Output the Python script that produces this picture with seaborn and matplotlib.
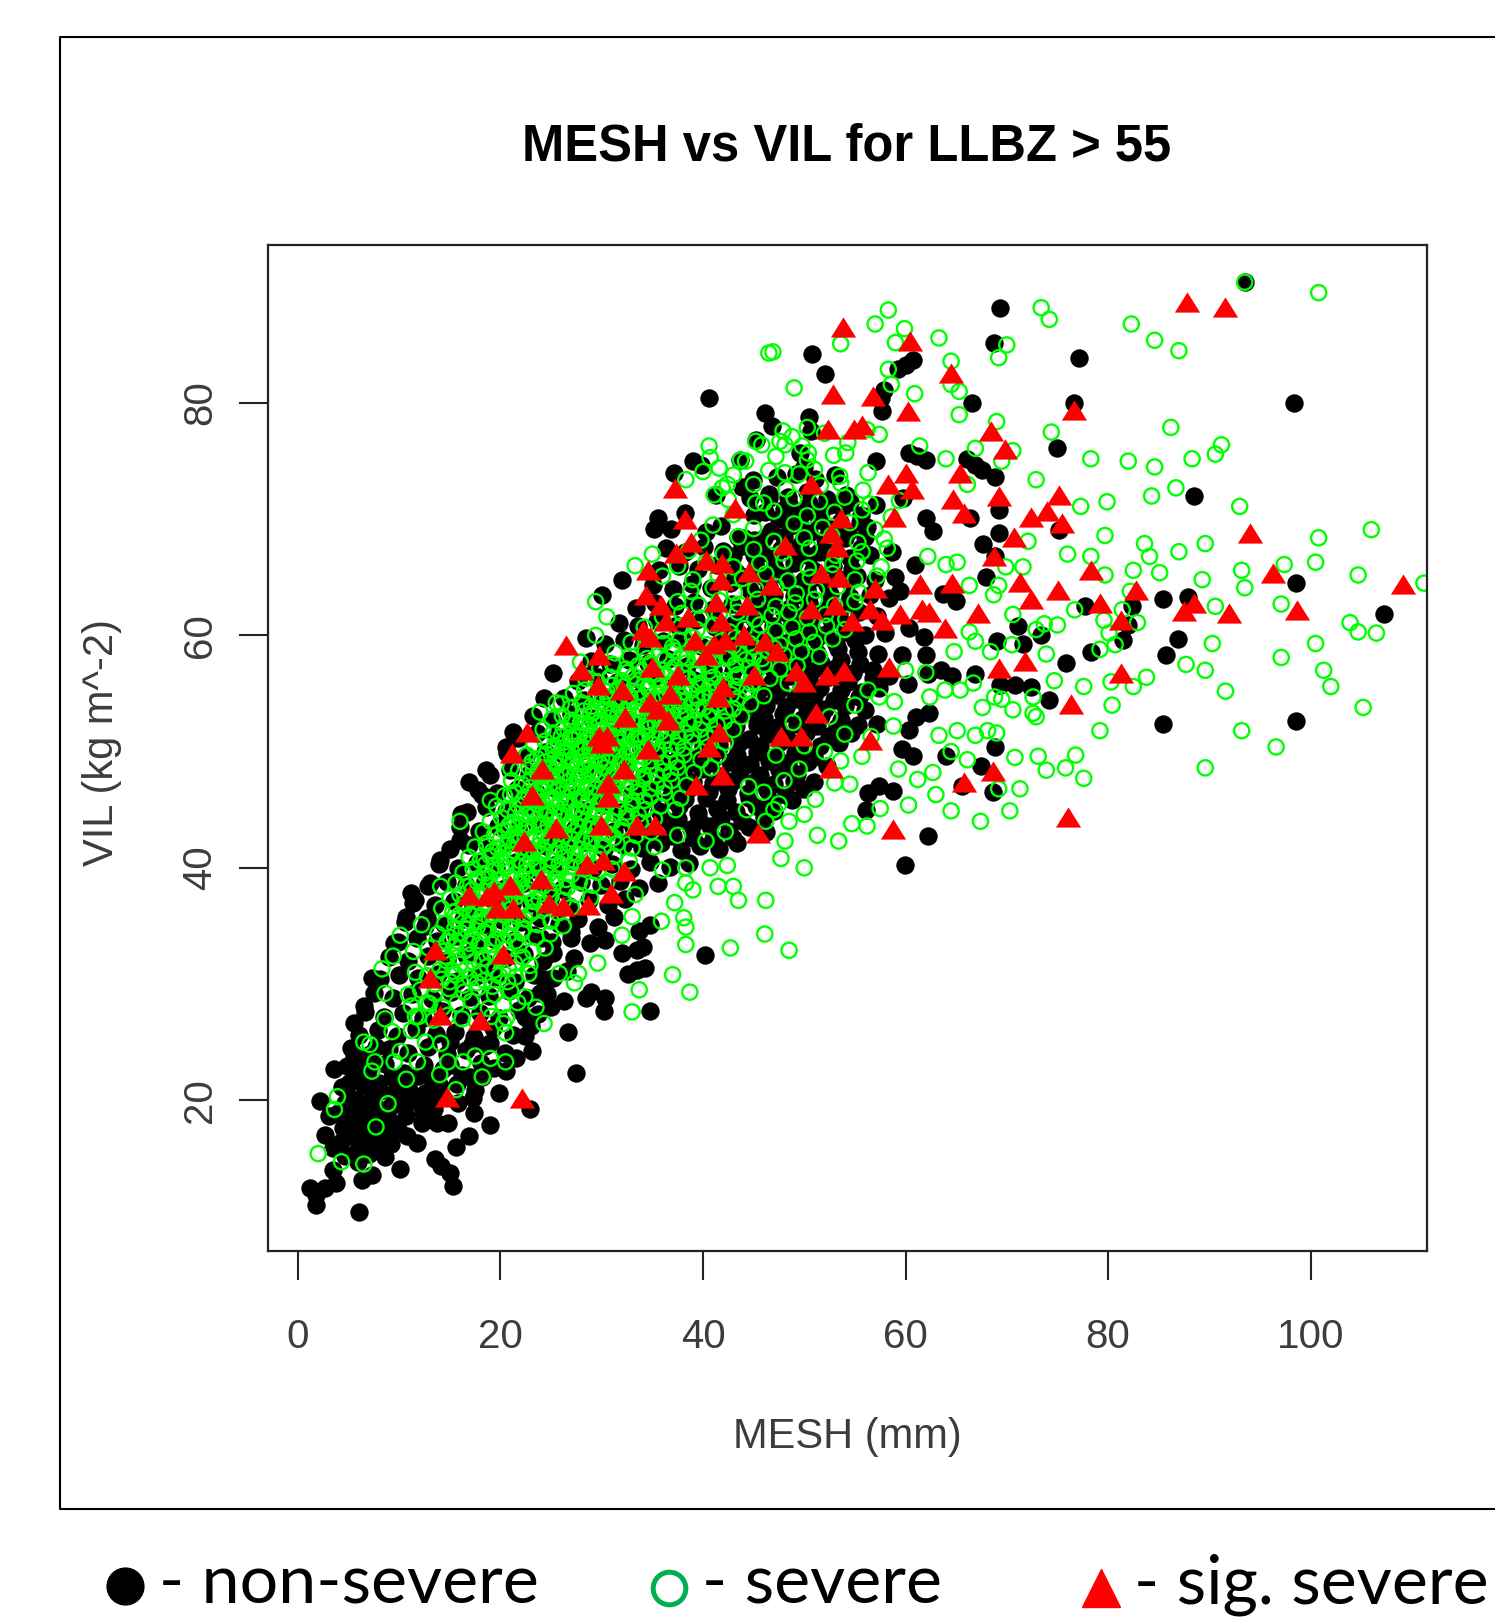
"""MESH vs VIL scatter for LLBZ > 55"""

import pandas as pd
import matplotlib.pyplot as plt
from matplotlib.lines import Line2D
import seaborn as sns

# values are (MESH, VIL)
NONSEVERE_OUTER = [
    (69.3,88.2),(68.7,85.2),(77.1,83.9),(98.4,80),(66.6,80),(76.6,80),(60.7,83.7),(60,83.3),(59.3,82.9),
    (57.7,79.3),(57.9,81.1),(57.6,80.4),(75,76.1),(60.3,75.7),(62,75.1),(61.1,75.4),(66.1,75.2),(66.9,74.7),
    (67.6,74.2),(68.8,73.6),(69.2,70.8),(66.4,70.1),(57.1,75),(59.8,71.8),(57.1,71.2),(88.5,72),(75.2,69.1),
    (62,70.1),(62.7,69),(69.2,68.8),(67.7,67.9),(68.8,66.8),(67.9,65),(60.9,66.1),(98.6,64.5),(85.4,63.1),
    (87.9,63.3),(107.3,61.8),(77.7,62.5),(82.4,62.5),(82,60.9),(81.5,59.6),(86.9,59.7),(85.7,58.3),(78.3,58.6),
    (75.8,57.6),(71.1,60.8),(73.4,60),(69,59.5),(71.6,59.3),(74.2,54.4),(85.4,52.4),(98.6,52.6),(69.3,55.7),
    (70.8,55.7),(72.4,55.6),(66.9,56.7),(64.6,56.5),(63.5,57),(60.2,55.8),(62.2,56.7),(62,58.3),(59.7,58.3),
    (57.4,55.5),(62.3,53.3),(61,53),(60.3,60.6),(61.8,59.9),(63.7,63.6),(65,63),(59.5,63.8),(68.8,50.4),
    (64,49.6),(67.5,48.8),(65.6,47),(68.6,46.5),(58.8,46.6),(62.2,42.7),(59.9,40.2),(60.7,49.6),(59.7,50.2),
    (60.3,51.9),(57.2,52.4),(56.1,45),(56.3,46.4),(57.4,47),
    (40.6,80.4),(46.1,79.1),(46.8,78),(50.5,78.8),(50.7,77.6),(50.8,84.2),(52,82.5),(45.2,76.8),(43.7,75.1),
    (39,75),(39.8,74.7),(37.1,74),(35.6,70.1),(35.2,69.2),(44.9,73.4),(43.9,72.8),(41.3,72.1),(38.2,70.5),
    (41.8,69.4),(43.5,68.5),(45,68.2),(49.6,75.7),(50,74.5),(32,64.8),(30,63.5),(28.4,59.8),(25.2,56.8),
    (24.3,54.6),(21.2,51.7),(93.5,90.4),
    (6,10.4),(1.8,11),(1.2,12.4),(2.7,12.4),(3.8,12.9),(1.8,11.8),(6.3,13.1),(7.3,13.6),(10.1,14.1),(15.3,12.6),
    (15,13.7),(14.1,14.3),(13.5,14.9),(15.6,16),(16.9,16.9),(19,17.9),(17.4,18.9),(19.9,20.6),(22.9,19.2),
    (27.5,22.3),(23.1,24.2),(26.7,25.9),(30.2,27.7),(30.3,28.8),(28.4,28.8),(34.8,27.7),(40.2,32.5),(33.5,31.2),
    (34.3,31.4),(32.6,30.9),(33.5,32.9),(32,32.7),(34.1,33.2),(28.8,33.5),(30.3,33.8),(29.6,34.9),(31.2,35.8),
    (33.7,34.6),(34.8,35.1),(25,28),(23.9,29.2),(24.3,30.4),(25.2,32.7),(22.4,27.2),(22.4,25.5),(20.5,22.5),
    (19,24.9),(17.5,20.9),(18.2,22),(2.2,19.9),(3.6,22.7),(5.5,23.9),(5.5,26.6),(6.5,28.1),(7.3,30.5),(9.5,33.5),
    (11.2,37.8),(13,38.7),(14,40.7),(16,42.4),(16.1,44.6),(16.9,47.4),(18.6,48.4),(20.5,50.4),(18.2,46.3),
    (11.4,37),(10.7,35.8),(12.5,35),
    (5,21.5),(6.5,21.2),(8,21.5),(5.7,20),(7.3,20),(5.2,18.6),(6.5,18.6),(8,19.2),(9.5,20.6),(11,20.9),(12.5,20.6),
    (14,21.2),(10.7,18.6),(12.2,18),(13.7,18),(14.8,18),(9.9,17.5),(11.8,16.3),(10.8,16.9),(8.4,16.1),(8.6,15.1),
    (5.4,16.9),(6.5,16.6),(2.7,17),(3.5,15.9),(3.5,14),(7.1,17.7),(5,20.3),(6.1,22.3),(12.9,19.7),(11.4,19.9),
    (3.1,18.6),(4.6,15.2),(5.9,14.7),(7,15.4),(4.4,17.6),
]
NONSEVERE_CORE = [
    (4.3,21.1),(6.2,22),(8.1,20.8),(10.2,21.7),(11.9,22.1),(13.8,20.7),(15.7,21.4),(17.3,20.2),
    (4.8,22.9),(6.9,22.6),(8.6,23.1),(10.5,22.3),(12.4,23),(14.3,22.7),(16.2,22.2),(18.1,23.2),(19.4,22.8),
    (5.2,24.5),(7.1,24),(9,24.4),(10.9,24.1),(12.8,24.6),(14.7,24),(16.6,24.3),(18.5,24.7),(20.4,24.1),(21.5,23.6),
    (6,25.6),(7.9,26),(9.8,25.5),(11.7,26.1),(13.6,25.7),(15.5,25.9),(17.4,25.4),(19.3,26.2),(21.2,25.6),(23,26.4),
    (6.6,27.6),(8.5,27.2),(10.4,27.5),(12.3,27.1),(14.2,27.7),(16.1,27.3),(18,27.5),(19.9,27.1),(21.8,27.8),(23.7,27.4),
    (7.5,29.2),(9.4,28.8),(11.3,29.1),(13.2,28.7),(15.1,29.3),(17,28.9),(18.9,29),(20.8,29.4),(22.7,28.8),(24.6,29.1),(26.3,28.5),(28.9,29.3),
    (8.1,30.4),(10,30.8),(11.9,30.5),(13.8,30.9),(15.7,30.3),(17.6,30.7),(19.5,30.6),(21.4,30.2),(23.3,30.8),(25.2,30.5),(26.6,31.1),
    (9,32.3),(10.9,32),(12.8,32.4),(14.7,32.1),(16.6,32.5),(18.5,31.9),(20.4,32.2),(22.3,32.6),(24.2,32),(27.3,32.2),
    (9.9,33.6),(11.8,34),(13.7,33.7),(15.6,34.1),(17.5,33.5),(19.4,33.9),(21.3,33.8),(23.2,34.2),(25.1,33.6),(27,34),
    (10.6,35.3),(12.7,35.7),(14.4,35.2),(16.3,35.6),(18.2,35.1),(20.1,35.5),(22,35.3),(23.9,35.7),(25.8,35.2),(27.7,35.6),
    (11.6,37.2),(13.5,36.8),(15.4,37.1),(17.3,36.7),(19.2,37.3),(21.1,36.9),(23,37),(24.9,37.3),(26.8,36.7),(28.7,37.2),(30.6,36.8),(32.3,37.3),
    (12.8,38.4),(14.7,38.8),(16.6,38.5),(18.5,38.9),(20.4,38.3),(22.3,38.7),(24.2,38.6),(26.1,38.2),(28,38.8),(29.9,38.5),(31.8,38.9),(33.7,38.3),(35.6,38.7),
    (13.9,40.3),(15.8,40),(17.7,40.4),(19.6,40.1),(21.5,40.5),(23.4,39.9),(25.3,40.2),(27.2,40.6),(29.1,40),(31,40.3),(32.9,39.9),(34.8,40.5),(36.7,40.1),(38.6,40.4),
    (15,41.6),(16.9,42),(18.8,41.7),(20.7,42.1),(22.6,41.5),(24.5,41.9),(26.4,41.8),(28.3,42.2),(30.2,41.6),(32.1,42),(34,41.7),(35.9,42.1),(37.8,41.5),(39.7,41.9),(41.6,41.6),(43.4,42.1),
    (16,43.5),(17.9,43.2),(19.8,43.6),(21.7,43.3),(23.6,43.7),(25.5,43.1),(27.4,43.4),(29.3,43.8),(31.2,43.2),(33.1,43.5),(35,43.1),(36.9,43.7),(38.8,43.3),(40.7,43.6),(42.6,43.2),(44.5,43.5),(46.2,43.1),
    (16.7,44.8),(18.6,45.2),(20.5,44.9),(22.4,45.3),(24.3,44.7),(26.2,45.1),(28.1,45),(30,45.4),(31.9,44.8),(33.8,45.2),(35.7,44.9),(37.6,45.3),(39.5,44.7),(41.4,45.1),(43.3,44.8),(45.2,45.3),(47,44.9),
    (17.8,46.7),(19.7,46.4),(21.6,46.8),(23.5,46.5),(25.4,46.9),(27.3,46.3),(29.2,46.6),(31.1,47),(33,46.4),(34.9,46.7),(36.8,46.3),(38.7,46.9),(40.6,46.5),(42.5,46.8),(44.4,46.4),(46.3,46.7),(48.2,46.3),(50,46.8),
    (19,48),(20.9,48.4),(22.8,48.1),(24.7,48.5),(26.6,47.9),(28.5,48.3),(30.4,48.2),(32.3,48.6),(34.2,48),(36.1,48.4),(38,48.1),(39.9,48.5),(41.8,47.9),(43.7,48.3),(45.6,48),(47.5,48.4),(49.3,48.1),
    (20.6,49.9),(22.5,49.6),(24.4,50),(26.3,49.7),(28.2,50.1),(30.1,49.5),(32,49.8),(33.9,50.2),(35.8,49.6),(37.7,49.9),(39.6,49.5),(41.5,50.1),(43.4,49.7),(45.3,50),(47.2,49.6),(49.1,49.9),(51,49.5),
    (21.7,51.2),(23.6,51.6),(25.5,51.3),(27.4,51.7),(29.3,51.1),(31.2,51.5),(33.1,51.4),(35,51.8),(36.9,51.2),(38.8,51.6),(40.7,51.3),(42.6,51.7),(44.5,51.1),(46.4,51.5),(48.3,51.2),(50.2,51.6),(52.4,51.3),(54.6,51.6),
    (23.2,53.1),(25.1,52.8),(27,53.2),(28.9,52.9),(30.8,53.3),(32.7,52.7),(34.6,53),(36.5,53.4),(38.4,52.8),(40.3,53.1),(42.2,52.7),(44.1,53.3),(46,52.9),(47.9,53.2),(49.8,52.8),(51.7,53.1),(53.6,52.7),
    (26.3,54.6),(28.2,54.4),(30.1,54.8),(32,54.5),(33.9,54.9),(35.8,54.3),(37.7,54.6),(39.6,55),(41.5,54.4),(43.4,54.7),(45.3,54.3),(47.2,54.9),(49.1,54.5),(51,54.8),(52.9,54.4),(55.4,54.7),
    (27.7,56.1),(29.6,56.4),(31.5,56),(33.4,56.3),(35.3,56.5),(37.2,55.9),(39.1,56.2),(41,56.6),(42.9,56),(44.8,56.3),(46.7,55.9),(48.6,56.5),(50.5,56.1),(52.4,56.4),(54.3,56),(56.8,56.3),
    (28.9,57.8),(30.8,57.5),(32.7,57.9),(34.6,57.6),(36.5,58),(38.4,57.4),(40.3,57.7),(42.2,58.1),(44.1,57.5),(46,57.8),(47.9,57.4),(49.8,58),(51.7,57.6),(53.6,57.9),(55.5,57.5),
    (30.3,59.3),(32.2,59.6),(34.1,59.2),(36,59.5),(37.9,59.7),(39.8,59.1),(41.7,59.4),(43.6,59.8),(45.5,59.2),(47.4,59.5),(49.3,59.1),(51.2,59.7),(53.1,59.3),(55,59.6),
    (31.7,61.1),(33.6,60.8),(35.5,61.2),(37.4,60.9),(39.3,61.3),(41.2,60.7),(43.1,61),(45,61.4),(46.9,60.8),(48.8,61.1),(50.7,60.7),(52.6,61.3),(54.5,60.9),
    (33.4,62.4),(35.3,62.8),(37.2,62.5),(39.1,62.9),(41,62.3),(42.9,62.7),(44.8,62.6),(46.7,63),(48.6,62.4),(50.5,62.8),(52.4,62.5),(54.4,62.9),
    (35.1,64.3),(37,64),(38.9,64.4),(40.8,64.1),(42.7,64.5),(44.6,63.9),(46.5,64.2),(48.4,64.6),(50.3,64),(52.2,64.3),(54.4,64.7),
    (35.7,65.6),(37.6,66),(39.5,65.7),(41.4,66.1),(43.3,65.5),(45.2,65.9),(47.1,65.8),(49,66.2),(50.9,65.6),(52.8,66),(54.7,65.7),
    (36.3,67.5),(38.2,67.2),(40.1,67.6),(42,67.3),(43.9,67.7),(45.8,67.1),(47.7,67.4),(49.6,67.8),(51.5,67.2),(55.6,67.5),
    (36.8,69.2),(40.3,68.9),(46.7,69),(48.6,69.4),(50.5,68.8),(52.4,69.2),(54.3,68.9),(56.2,69.3),
    (46.1,70.6),(48,70.9),(49.9,70.5),(51.8,70.8),(53.7,71),(55.6,70.4),
    (44.6,71.8),(46.5,72.2),(48.4,71.9),(50.3,72.3),(52.2,71.7),(54.1,72.1),
    (47.3,73.6),(49.2,73.9),(51.1,73.5),(53,73.8),
]
NONSEVERE_FILL = [
    (4.2,16.4),(5.8,15.6),(7.6,16.4),(9.2,16.2),(6,19.3),(7.6,18.4),(9,18.3),(9.2,19.5),(10.4,19.7),(4,18.9),(4.6,19.8),
    (5.6,17.7),(8.8,17.4),(12.3,19),(13.4,19.2),(6.9,23),(9.3,22),(5.6,22.6),(7.7,24.6),(13,22),(15,23),(17,22),(15.8,19.8),
    (15,25),(17.2,24.8),
    (37.5,44.2),(39.6,44.1),(41.8,44.3),(43.9,44),(46,44.4),(38.2,45.9),(40.3,46),(42.4,45.8),(44.5,46),(46.8,45.7),(48.8,45.8),
    (39,47.4),(41,47.3),(43,47.5),(45,47.4),(47,47.2),(49,47.5),(51,47.4),(40.8,49),(42.7,49.1),(44.6,48.9),(46.5,49.2),(48.4,49),
    (50.4,49.1),(52.2,48.8),(41.6,50.6),(43.6,50.7),(45.6,50.5),(47.6,50.8),(49.6,50.6),(51.6,50.5),(53.4,50.7),(43.3,52.2),
    (45.3,52.3),(47.3,52.1),(49.3,52.4),(51.3,52.2),(53.2,52.1),(55.3,52.3),(46.2,53.9),(48.2,53.8),(50.2,54),(52,53.7),(54,53.9),
    (56,53.6),(47.6,55.4),(49.6,55.2),(51.6,55.5),(53.6,55.3),(55.7,55.1),(48.9,57),(50.8,56.9),(52.8,57.1),(54.8,56.8),(56.8,57),
    (58.4,56.5),(49.4,58.7),(51.3,58.5),(53.3,58.8),(55.3,58.6),(57.3,58.4),(50.2,60.2),(52.1,60.1),(54,60.3),(56,60),(58,60.2),
    (51.4,61.9),(53.4,61.8),(55.4,62),(57.2,61.7),(50.5,63.4),(52.5,63.6),(54.5,63.3),(56.5,63.5),(58.4,63.2),(51.2,65),(53.2,64.9),
    (55.2,65.1),(57,64.8),(59,65),(50.5,66.8),(52.5,66.9),(54.5,66.7),(56.5,66.9),(58.7,67.2),(50,68.5),(52,68.3),(54,68.4),(56,68.5),
    (47.5,70),(49.5,70),(51.5,69.9),(53.5,69.8),(55.5,69.8),(45,70.4),(46.5,71.8),(48.5,71.3),(50.5,71.4),(52.5,71.2),(54.5,71.5),
    (33,42.6),(35,42.5),(37,42.7),(39,42.6),(41,42.5),(43,42.6),(32,44.2),(34,44.1),(36,44.3),(33,45.9),(35,46),(37,45.8),(34,47.4),
    (36,47.5),(37,47.3),(35,49),(37,49.1),(39,49),(36,50.6),(38,50.7),(40,50.5),(37.5,52.2),(39.5,52.3),(41.5,52.1),(38.5,53.9),
    (40.5,53.8),(42.5,54),(44.5,53.7),(39.5,55.4),(41.5,55.3),(43.5,55.5),(45.5,55.3),(41,57),(43,56.9),(45,57.1),(47,56.9),(42,58.6),
    (44,58.6),(46,58.7),(48,58.5),(43,60.2),(45,60.2),(47,60.3),(49,60),(44,61.9),(46,61.9),(48,62),(50,61.8),(45,63.4),(47,63.5),
    (49,63.4),(44,65),(46,65),(48,65.1),(50,64.8),(43,66.8),(45,66.9),(47,66.7),(49,66.9),(44,68.4),(46,68.4),(48,68.5),(24,34),(27,34.5),
]
SEVERE_OUTER = [
    (58.3,88),(57,86.8),(59.9,86.4),(59,85.2),(63.3,85.6),(64.5,83.6),(58.3,82.9),(58.6,81.6),(60.9,80.8),(65.3,81),
    (64.5,81.6),(65.3,79),(73.4,88.2),(74.2,87.2),(70,85),(69.2,83.9),(82.3,86.8),(84.6,85.4),(87,84.5),(100.8,89.5),
    (93.5,90.4),(86.2,77.9),(91.2,76.4),(90.6,75.6),(88.3,75.2),(84.6,74.5),(82,75),(78.3,75.2),(74.4,77.5),(69,78.4),
    (66.9,76.1),(70.6,75.9),(64,75.2),(61.4,76.3),(57.4,77.3),(72.9,73.4),(66.1,73),(69.5,75),(84.3,72),(86.7,72.7),
    (93,71.1),(77.3,71.1),(79.9,71.5),(79.7,68.6),(100.8,68.4),(106,69.1),(100.5,66.3),(89.6,67.9),(87,67.2),(83.6,67.9),
    (84.1,66.8),(85.1,65.4),(82.5,65.6),(78.3,66.8),(76,67),(79.7,65.2),(72.1,68.1),(71.6,65.9),(69.9,65.9),(62.2,66.8),
    (64,66.1),(65.1,66.3),(66.3,64.3),(69.2,64.3),(68.7,63.5),(104.7,65.2),(111.2,64.5),(93.2,65.6),(93.5,64.1),(89.3,64.8),
    (97.4,66.1),(97.1,62.7),(90.6,62.5),(103.9,61.1),(104.7,60.3),(106.5,60.2),(100.5,59.3),(97.1,58.1),(90.3,59.3),(87.7,57.5),
    (89.6,57),(91.6,55.2),(101.3,57),(102,55.6),(105.2,53.8),(83.8,56.4),(82.5,55.6),(80.3,56),(77.6,55.6),(74.7,56.1),
    (80.4,54),(79.2,51.8),(93.2,51.8),(96.6,50.4),(89.6,48.6),(76.8,49.7),(73.1,49.6),(75.8,48.6),(73.9,48.4),(77.6,47.7),
    (70.8,49.5),(71.3,46.8),(70.3,44.9),(67.4,44),(64.5,44.9),(63,46.3),(60.3,45.4),(57.5,45.1),(56.2,43.6),(69.2,46.8),
    (66.1,49.3),(64.5,50),(63.3,51.4),(65.1,51.8),(66.9,51.4),(68.1,51.8),(69,51.6),(61.2,47.6),(59.3,48.5),(62.7,48.2),
    (58.8,52.2),(58.9,54.3),(67.6,53.8),(70.6,53.6),(72.9,53),(72.6,53.3),(69.5,54.5),(68.8,54.7),(62.4,54.7),(63.9,55.3),
    (65.4,55.3),(66.7,55.9),(72.6,54.7),(73.9,58.4),(75,60.9),(73.7,61),(72.9,60.5),(70.6,61.8),(76.7,62.2),(79.6,61.3),
    (80.1,60.2),(79.2,58.8),(80.7,59.2),(82.9,61.1),(81.4,62.2),(82.2,63.8),(68.4,58.6),(66.9,59.5),(66.3,60.3),(64.8,58.6),
    (60,57),(62,56.8),(56.3,55.3),(57.4,54.7),(70.5,59.2),
    (2,15.4),(4.3,14.7),(6.5,14.5),(7.7,17.7),(8.9,19.7),(3.9,20.3),(3.6,19.2),(10.7,21.8),(7.3,22.5),(14,22.2),(15.6,20.9),
    (18.2,22),(20.5,23.3),(19,23.6),(17.5,23.8),(16.3,23.3),(14.8,23.3),(11.8,23.3),(9.5,23.3),(7.6,23.3),(7.1,24.8),(6.5,25),
    (10.1,24.2),(9.3,25.9),(8.6,27),(10.9,29.1),(11.6,31),(11.4,32.8),(10.1,34.2),(12.2,35.1),(8.3,31.3),(9.4,32.4),(8.6,29.2),
    (11.6,27.2),(12.6,25),(14.1,24.9),(11.2,26),(13,28.3),(14.1,38.4),(16,44),(21,46.3),(19,45.8),(21,48.6),(23.1,49.1),
    (24.3,26.6),(20.5,25.8),(20.3,26.6),(23.5,28),(22.4,28.9),(25.8,30.9),(27.3,30.1),(27.7,30.9),(29.6,31.8),(33.7,29.5),(33,27.6),
    (37,30.8),(38.7,29.3),(42.7,33.1),(46.1,34.3),(48.5,32.9),(38.3,33.4),(38.3,34.9),(38.1,35.7),(37.2,37),(35.9,35.4),(39,38.1),
    (38.3,38.7),(41.5,38.4),(43,38.4),(43.5,37.2),(46.2,37.2),(42.4,40.2),(40.7,40),(36,39.8),(38.3,40),(50,40),(47.7,40.8),
    (53.4,42.3),(51.3,42.8),(48.1,42.3),(54.7,43.8),(53,47.3),(51.1,45.9),(50,44.6),(48.5,44),(47,45),(40.3,42.3),(37.5,42.8),
    (35.2,41.8),(42.2,43.1),(33.3,37.7),(33,35.8),(32,34.2),
    (46.5,84.3),(46.9,84.4),(53.6,85.1),(49,81.3),(40.6,76.3),(41.6,74.4),(38.3,73.4),(42.4,73),(45.2,76.7),(43.7,75.1),(48.8,77.1),
    (48.1,76.4),(50.4,75.7),(54.1,75.7),(48.1,74),(41.1,72.1),(45.2,71.4),(35,67),(33.3,66),(29.4,62.9),(29.4,60),(30.5,61.6),
    (27.9,57.7),(23.9,53.4),(25.5,54.2),
    (44.5,47),(46,46.5),(48,47.5),(47.5,45.5),(49.5,48.5),(52,50),(54,51.5),(50,50.5),(47.2,49.7),(48.9,52.5),(52.5,53),(55,54),
    (53.6,49.2),(55.7,49.6),(56.6,51.3),(54.5,47.2),(44.3,45),(46.2,44),
]
SEVERE_CORE = [
    (11.9,27.2),(13.4,26.9),(14.8,27.3),(16.2,27),(17.6,26.8),(19.1,27.2),(20.6,27.1),
    (11.2,28.1),(12.7,28.4),(14.3,28),(15.7,28.3),(17.1,28.5),(18.8,27.9),(20.3,28.2),(21.7,28.4),
    (12.1,29.5),(13.5,29.2),(14.9,29.6),(16.4,29.3),(17.8,29.7),(19.4,29.1),(21,29.4),
    (12.8,30.7),(14.2,30.4),(15.6,30.8),(17,30.5),(18.4,30.3),(19.9,30.7),(21.5,30.6),(22.8,30.9),
    (13.3,31.6),(14.7,32),(16,31.7),(17.3,31.9),(18.7,31.5),(20,32.1),(21.4,31.8),(22.9,31.6),
    (12.9,33.1),(14.3,32.8),(15.4,33.2),(16.6,32.9),(17.8,33.3),(19,32.7),(20.5,33),(21.8,33.3),(23.2,32.8),(24.4,33.1),
    (13.8,34.3),(15,34),(16.1,34.4),(17.2,34.1),(18.4,34.5),(19.6,33.9),(20.8,34.2),(22.1,34.4),(23.5,34),(24.9,34.3),
    (14.5,35.2),(15.6,35.5),(16.7,35.1),(17.8,35.4),(18.9,35.6),(20.1,35),(21.2,35.3),(22.4,35.6),(23.7,35.1),(25,35.4),(26.2,35),
    (14.2,36.5),(15.3,36.2),(16.4,36.6),(17.5,36.3),(18.6,36.7),(19.7,36.1),(20.9,36.4),(22,36.7),(23.2,36.2),(24.4,36.5),(25.7,36.1),(27,36.6),
    (15,37.4),(16,37.7),(17.1,37.3),(18.2,37.6),(19.2,37.8),(20.4,37.2),(21.5,37.5),(22.6,37.8),(23.8,37.3),(25,37.6),(26.2,37.2),(27.5,37.7),(28.9,37.4),
    (15.6,38.7),(16.7,38.4),(17.7,38.8),(18.8,38.5),(19.9,38.9),(21,38.3),(22,38.6),(23.1,38.9),(24.2,38.4),(25.4,38.7),(26.6,38.3),(27.8,38.8),(29.1,38.5),(30.5,38.8),
    (16.3,39.6),(17.3,39.9),(18.4,39.5),(19.5,39.8),(20.5,40),(21.5,39.4),(22.6,39.7),(23.7,40),(24.8,39.5),(25.9,39.8),(27,39.4),(28.3,39.9),(29.6,39.6),(31,39.9),
    (16.9,40.9),(18,40.6),(19,41),(20,40.7),(21,41.1),(22.1,40.5),(23.1,40.8),(24.1,41.1),(25.2,40.6),(26.3,40.9),(27.4,40.5),(28.6,41),(29.8,40.7),(31.2,41),(32.7,40.6),
    (17.5,41.8),(18.6,42.1),(19.7,41.7),(20.7,42),(21.7,42.2),(22.7,41.6),(23.7,41.9),(24.7,42.2),(25.8,41.7),(26.8,42),(27.9,41.6),(29,42.1),(30.2,41.8),(31.5,42.1),(33,41.7),
    (18.3,43.1),(19.4,42.8),(20.4,43.2),(21.4,42.9),(22.4,43.3),(23.3,42.7),(24.3,43),(25.3,43.3),(26.3,42.8),(27.3,43.1),(28.4,42.7),(29.5,43.2),(30.7,42.9),(32,43.2),(33.4,42.8),(34.9,43.1),
    (19,44),(20.1,44.3),(21.1,43.9),(22,44.2),(23,44.4),(24,43.8),(25,44.1),(25.9,44.4),(26.9,43.9),(27.9,44.2),(28.9,43.8),(30,44.3),(31.1,44),(32.4,44.3),(33.8,43.9),(35.2,44.2),
    (19.6,45.3),(20.7,45),(21.7,45.4),(22.7,45.1),(23.6,45.5),(24.6,44.9),(25.5,45.2),(26.5,45.5),(27.5,45),(28.4,45.3),(29.4,44.9),(30.5,45.4),(31.7,45.1),(33,45.4),(34.3,45),(35.8,45.3),(37.3,45),
    (20.4,46.2),(21.4,46.5),(22.4,46.1),(23.3,46.4),(24.2,46.6),(25.2,46),(26.1,46.3),(27,46.6),(28,46.1),(29,46.4),(30,46),(31.1,46.5),(32.3,46.2),(33.5,46.5),(34.8,46.1),(36.2,46.4),(37.8,46),
    (21.1,47.5),(22.1,47.2),(23,47.6),(24,47.3),(24.9,47.7),(25.8,47.1),(26.7,47.4),(27.6,47.7),(28.6,47.2),(29.6,47.5),(30.6,47.1),(31.7,47.6),(32.9,47.3),(34.1,47.6),(35.4,47.2),(36.9,47.5),(38.4,47.1),
    (21.8,48.4),(22.8,48.7),(23.7,48.3),(24.7,48.6),(25.6,48.8),(26.5,48.2),(27.4,48.5),(28.3,48.8),(29.3,48.3),(30.3,48.6),(31.3,48.2),(32.4,48.7),(33.6,48.4),(34.8,48.7),(36.1,48.3),(37.5,48.6),(39.1,48.2),(40.8,48.6),
    (22.6,49.7),(23.6,49.4),(24.5,49.8),(25.4,49.5),(26.3,49.9),(27.2,49.3),(28.1,49.6),(29,49.9),(30,49.4),(31,49.7),(32,49.3),(33.1,49.8),(34.2,49.5),(35.4,49.8),(36.7,49.4),(38.1,49.7),(39.8,49.3),(41.5,49.7),
    (23.3,50.6),(24.4,50.9),(25.3,50.5),(26.2,50.8),(27.1,51),(28,50.4),(28.9,50.7),(29.8,51),(30.8,50.5),(31.8,50.8),(32.8,50.4),(33.9,50.9),(35,50.6),(36.2,50.9),(37.5,50.5),(38.9,50.8),(40.5,50.4),(42.2,50.8),
    (24.2,51.9),(25.2,51.6),(26.2,52),(27.1,51.7),(28,52.1),(28.9,51.5),(29.8,51.8),(30.7,52.1),(31.6,51.6),(32.6,51.9),(33.6,51.5),(34.7,52),(35.8,51.7),(37,52),(38.3,51.6),(39.7,51.9),(41.2,51.5),(43,51.9),
    (25.1,52.8),(26.1,53.1),(27,52.7),(28,53),(28.9,53.2),(29.8,52.6),(30.7,52.9),(31.6,53.2),(32.5,52.7),(33.5,53),(34.5,52.6),(35.5,53.1),(36.6,52.8),(37.8,53.1),(39.1,52.7),(40.5,53),(42.1,52.6),(43.8,53),
    (26,54.1),(27,53.8),(28,54.2),(29,53.9),(30,54.3),(30.9,53.7),(31.8,54),(32.7,54.3),(33.6,53.8),(34.6,54.1),(35.6,53.7),(36.6,54.2),(37.7,53.9),(38.9,54.2),(40.1,53.8),(41.5,54.1),(43,53.7),(44.7,54.1),
    (27.2,55),(28.3,55.3),(29.4,54.9),(30.5,55.2),(31.6,55.4),(32.6,54.8),(33.6,55.1),(34.6,55.4),(35.6,54.9),(36.7,55.2),(37.8,54.8),(38.9,55.3),(40.1,55),(41.4,55.3),(42.8,54.9),(44.3,55.2),(46,54.8),
    (28.4,56.3),(29.6,56),(30.8,56.4),(32,56.1),(33.1,56.5),(34.2,55.9),(35.3,56.2),(36.4,56.5),(37.5,56),(38.6,56.3),(39.8,55.9),(41,56.4),(42.2,56.1),(43.5,56.4),(45,56),(46.6,56.3),(48.4,55.9),
    (29.8,57.2),(31.1,57.5),(32.4,57.1),(33.6,57.4),(34.8,57.6),(36,57),(37.2,57.3),(38.3,57.6),(39.5,57.1),(40.7,57.4),(41.9,57),(43.2,57.5),(44.5,57.2),(46,57.5),(47.6,57.1),(49.3,57.4),
    (31.3,58.5),(32.8,58.2),(34.3,58.6),(35.7,58.3),(37.1,58.7),(38.4,58.1),(39.7,58.4),(41,58.7),(42.3,58.2),(43.6,58.5),(45,58.1),(46.5,58.6),(48,58.3),(49.7,58.6),(51.5,58.2),
    (32.9,59.4),(34.5,59.7),(36.1,59.3),(37.6,59.6),(39,59.8),(40.4,59.2),(41.8,59.5),(43.2,59.8),(44.6,59.3),(46.1,59.6),(47.6,59.2),(49.2,59.7),(51,59.4),(52.8,59.7),
    (34.2,60.7),(36,60.4),(37.8,60.8),(39.4,60.5),(41,60.9),(42.6,60.3),(44.1,60.6),(45.6,60.9),(47.2,60.4),(48.8,60.7),(50.5,60.3),(52.2,60.8),(54,60.5),
    (36,61.6),(37.9,61.9),(39.8,61.5),(41.6,61.8),(43.4,62),(45.1,61.4),(46.8,61.7),(48.5,62),(50.3,61.5),(52.1,61.8),(54.1,61.4),
    (37.5,62.9),(39.6,62.6),(41.6,63),(43.5,62.7),(45.4,63.1),(47.2,62.5),(49.1,62.8),(51,63.1),(53,62.6),(55,62.9),
    (38.8,63.8),(41,64.1),(43.1,63.7),(45.2,64),(47.2,64.2),(49.2,63.6),(51.2,63.9),(53.3,64.2),(55.4,63.7),
    (36,65.1),(39,64.8),(41.5,65.2),(43.9,64.9),(46.2,65.3),(48.4,64.7),(50.6,65),(52.8,65.3),(55,64.8),(57.2,65.1),
    (37.5,66),(40.3,66.3),(43,65.9),(45.6,66.2),(48,66.4),(50.4,65.8),(52.8,66.1),(55.2,66.4),(57.6,65.9),
    (38.6,67.3),(42,67),(45,67.4),(47.8,67.1),(50.5,67.5),(53.1,66.9),(55.7,67.2),(58.2,67.5),
    (39.8,68.2),(43.5,68.5),(47,68.1),(50,68.4),(52.7,68.6),(55.3,68),(57.9,68.3),
    (41,69.5),(45,69.2),(49,69.6),(51.8,69.3),(54.5,69.7),(57,69.1),
    (43,70.4),(47,70.7),(50.3,70.3),(53,70.6),(55.7,70.8),(58.6,70.2),
    (42.5,71.7),(46,71.4),(49,71.8),(51.5,71.5),(54,71.9),(56.5,71.3),(59.4,71.6),
    (41.9,72.7),(45,73),(48.2,72.6),(51.6,72.9),(53.6,73.1),(55.8,72.5),
    (40,74.1),(43,73.8),(46.5,74.2),(49.5,73.9),(51,74.3),(53.5,73.7),(56.3,74),
    (40.7,75.3),(44.2,75),(47.2,75.4),(50.3,75.1),(52.9,75.5),
    (45.8,76.4),(47.6,76.7),(49.8,76.3),(54.3,76.6),
    (47.9,77.6),(50.3,77.9),(52,77.4),(56.2,77.7),
]
SEVERE_RIDGE = [
    (13.5,30),(15,30.2),(16.3,29.9),(17.7,30.1),(19.2,29.8),(20.7,30.2),
    (14,31.2),(15.3,31.1),(16.6,31.3),(18,31),(19.4,31.2),(20.8,31.3),
    (14.6,32.4),(15.8,32.3),(17,32.5),(18.2,32.2),(19.5,32.4),(20.8,32.5),(22.2,32.3),
    (14.7,33.6),(15.7,33.7),(16.9,33.5),(18,33.7),(19.2,33.4),(20.3,33.6),(21.5,33.7),
    (15.5,34.8),(16.6,34.7),(17.7,34.9),(18.8,34.7),(19.9,34.8),(21,34.9),(22.2,34.7),
    (15.9,35.9),(17,36),(18.1,35.8),(19.3,36),(20.4,35.9),(21.6,35.8),(22.9,36),
    (16.5,37),(17.6,37.1),(18.7,36.9),(19.8,37.1),(20.9,37),(22,36.9),(23.2,37.1),(24.4,36.9),
    (17.2,38.1),(18.3,38),(19.4,38.2),(20.4,38),(21.5,38.1),(22.6,38.2),(23.7,38),(24.8,38.1),
    (17.8,39.1),(18.9,39.2),(20,39),(21,39.2),(22.1,39.1),(23.2,39),(24.3,39.2),(25.4,39.1),(26.5,39),
    (18.5,40.3),(19.5,40.2),(20.5,40.4),(21.6,40.2),(22.6,40.3),(23.6,40.4),(24.7,40.2),(25.8,40.3),(26.9,40.1),(28,40.3),
    (19.2,41.4),(20.2,41.3),(21.3,41.5),(22.3,41.3),(23.3,41.4),(24.3,41.5),(25.3,41.3),(26.3,41.4),(27.4,41.2),(28.5,41.4),(29.6,41.3),
    (20,42.5),(21,42.4),(22,42.6),(23,42.4),(24,42.5),(25,42.6),(26,42.4),(27,42.5),(28,42.3),(29,42.5),(30.1,42.4),(31.2,42.6),
    (20.8,43.6),(21.8,43.7),(22.8,43.5),(23.8,43.7),(24.7,43.6),(25.7,43.5),(26.7,43.7),(27.7,43.6),(28.7,43.4),(29.7,43.6),(30.8,43.7),(32,43.5),
    (21.5,44.7),(22.5,44.6),(23.4,44.8),(24.4,44.6),(25.3,44.7),(26.3,44.8),(27.2,44.6),(28.2,44.7),(29.2,44.5),(30.2,44.7),(31.3,44.6),(32.5,44.8),(33.6,44.6),
    (22.2,45.8),(23.2,45.9),(24.1,45.7),(25,45.9),(25.9,45.8),(26.8,45.7),(27.8,45.9),(28.7,45.8),(29.7,45.6),(30.7,45.8),(31.8,45.9),(33,45.7),(34.2,45.8),
    (23,46.9),(23.9,46.8),(24.8,47),(25.7,46.8),(26.6,46.9),(27.5,47),(28.4,46.8),(29.4,46.9),(30.3,46.7),(31.3,46.9),(32.4,46.8),(33.6,47),(34.8,46.8),(36.2,46.9),
    (23.7,48),(24.6,48.1),(25.5,47.9),(26.4,48.1),(27.3,48),(28.2,47.9),(29.1,48.1),(30,48),(31,47.8),(32,48),(33,48.1),(34.2,47.9),(35.4,48),(36.8,48.1),
    (24.4,49.1),(25.3,49),(26.2,49.2),(27.1,49),(28,49.1),(28.9,49.2),(29.8,49),(30.7,49.1),(31.7,48.9),(32.7,49.1),(33.7,49),(34.8,49.2),(36,49),(37.4,49.1),
    (25.2,50.2),(26.1,50.3),(27,50.1),(27.9,50.3),(28.8,50.2),(29.7,50.1),(30.6,50.3),(31.5,50.2),(32.5,50),(33.5,50.2),(34.5,50.3),(35.6,50.1),(36.8,50.2),(38.1,50.3),
    (26,51.3),(26.9,51.2),(27.8,51.4),(28.7,51.2),(29.6,51.3),(30.5,51.4),(31.4,51.2),(32.3,51.3),(33.3,51.1),(34.3,51.3),(35.3,51.2),(36.4,51.4),(37.6,51.2),(38.9,51.3),(40.4,51.2),
    (27,52.4),(27.9,52.5),(28.8,52.3),(29.7,52.5),(30.6,52.4),(31.5,52.3),(32.4,52.5),(33.3,52.4),(34.3,52.2),(35.3,52.4),(36.3,52.5),(37.4,52.3),(38.6,52.4),(39.9,52.5),(41.4,52.3),
    (28.2,53.5),(29.2,53.4),(30.2,53.6),(31.2,53.4),(32.2,53.5),(33.2,53.6),(34.1,53.4),(35.1,53.5),(36.1,53.3),(37.1,53.5),(38.3,53.4),(39.5,53.6),(40.8,53.4),(42.2,53.5),
    (29.5,54.6),(30.6,54.7),(31.7,54.5),(32.8,54.7),(33.9,54.6),(35,54.5),(36,54.7),(37.1,54.6),(38.2,54.4),(39.4,54.6),(40.7,54.7),(42,54.5),(43.5,54.6),
    (31,55.7),(32.2,55.6),(33.4,55.8),(34.6,55.6),(35.8,55.7),(37,55.8),(38.2,55.6),(39.4,55.7),(40.6,55.5),(41.9,55.7),(43.3,55.6),(44.8,55.8),
    (32.5,56.8),(34,56.9),(35.4,56.7),(36.7,56.9),(38,56.8),(39.3,56.7),(40.6,56.9),(42,56.8),(43.4,56.6),(44.9,56.8),
    (34.5,58),(36.2,57.9),(37.8,58.1),(39.4,57.9),(41,58),(42.6,58.1),(44.2,57.9),(45.8,58),
    (37,59),(39,59.1),(41,58.9),(43,59.1),(45,59),(47,58.9),
]
SIG_SEVERE = [
    (87.8,88.7),(91.6,88.3),(60.4,85.3),(64.5,82.6),(76.6,79.4),(56.8,80.6),(60.2,79.3),(68.4,77.6),(69.8,76),(55.7,78.1),
    (60,74),(65.4,74),(58.3,73),(60.6,72.6),(69.2,72),(75.2,72.1),(64.7,71.7),(65.8,70.5),(58.9,70.2),(74,70.7),(72.4,70.2),
    (75.5,69.7),(70.7,68.5),(94,68.8),(68.7,66.8),(78.3,65.6),(96.3,65.4),(109.1,64.4),(71.3,64.6),(61.4,64.4),(64.6,64.5),
    (57,64.1),(75.1,63.9),(72.4,63.1),(82.8,63.9),(79.2,62.8),(88.5,62.8),(87.5,62.1),(91.9,61.9),(98.7,62.2),(81.3,61.3),
    (67.2,61.9),(61.6,62.3),(62.3,62),(59.5,61.8),(56.5,62.3),(57.7,61.3),(63.9,60.6),(58.4,57.3),(69.2,57.2),(71.8,57.8),
    (81.3,56.8),(76.3,54.1),(56.5,51),(68.6,48.3),(65.8,47.4),(76,44.4),(58.8,43.3),
    (53.85,86.5),(52.8,80.8),(52.3,77.8),(54.9,77.8),(37.2,72.7),(50.7,73),(43.2,71),(38.2,70),(53.6,70.1),(52.6,68.8),
    (53.2,67.6),(48.1,67.8),(38.8,68),(37.3,67.1),(34.6,65.6),(40.3,66.5),(41.9,66.2),(44.5,65.5),(41.8,64.8),(51.7,65.4),
    (53.4,65),(46.7,64.3),(34.4,63.5),(35.9,62.6),(41.3,62.9),(44.3,62.6),(50.7,62.3),(53,62.6),(54.7,61.2),(38.5,61.6),
    (41.8,61.2),(34.1,60.5),(36.3,61.2),(34.8,59.9),(39.2,59.6),(44,60),(46.1,59.5),(47.3,58.7),(41.1,59.3),(42.2,59.6),
    (40.3,58.3),(26.5,59.2),(29.7,58.3),(28,57),(35,57.3),(37.5,56.6),(29.6,55.7),(45,56.6),(49.2,56.9),(50,56),(52.2,56.6),
    (53.9,56.9),(32,55.3),(42,55.6),(36.7,55),(34.8,54.3),(41.5,54.7),(35.6,53.7),(32.3,53),(36.5,52.7),(51.2,53.3),(41.6,51.7),
    (22.6,51.7),(29.7,51.3),(30.5,51.3),(47.7,51.3),(49.7,51.3),
    (21.1,49.9),(24.1,48.5),(32.2,48.5),(30,50.7),(34.6,50.2),(40.6,50.4),(52.6,48.6),(41.9,48),(39.3,47.1),(23.1,46.3),
    (30.6,46.1),(30.6,47.3),(25.5,43.4),(29.9,43.7),(33.5,43.7),(35.3,43.7),(45.4,43),(22.3,42.3),(30.1,40.7),(28.5,40.3),
    (32.2,39.7),(24,39),(20.9,38.5),(16.9,37.7),(19.4,38),(18.7,37.6),(30.9,37.8),(24.8,37),(26.2,36.7),(28.6,36.8),(19.7,36.5),
    (21.2,36.5),(13.5,32.9),(20.2,32.6),(13,30.5),(14,27.3),(18,26.9),(14.7,20.3),(22.1,20.2),
]
X_TICKS = [0, 20, 40, 60, 80, 100]
Y_TICKS = [20, 40, 60, 80]
TITLE = 'MESH vs VIL for LLBZ > 55'
X_LABEL = 'MESH (mm)'
Y_LABEL = 'VIL (kg m^-2)'
LEGEND_LABELS = ['- non-severe', '- severe', '- sig. severe']

W, H = 1495, 1620
TRIANGLE = [(-1, -0.8), (1, -0.8), (0, 0.8)]
TEXT_GREY = '#3c3c3c'


def to_frame(*groups):
    points = [p for group in groups for p in group]
    return pd.DataFrame(points, columns=['MESH', 'VIL'])


def fx(px):
    return px / W


def fy(px):
    return 1 - px / H


sns.set_style('white')
plt.rcParams['font.family'] = ['Liberation Sans', 'DejaVu Sans']

fig = plt.figure(figsize=(W / 100, H / 100), dpi=100, facecolor='white')
ax = fig.add_axes([fx(268), fy(1251), (1427 - 268) / W, (1251 - 245) / H])

sns.scatterplot(data=to_frame(NONSEVERE_OUTER, NONSEVERE_CORE, NONSEVERE_FILL), x='MESH', y='VIL', ax=ax,
                marker='o', s=175, color='black', linewidth=0)
sns.scatterplot(data=to_frame(SEVERE_OUTER, SEVERE_CORE, SEVERE_RIDGE), x='MESH', y='VIL', ax=ax,
                marker='o', s=120, facecolor='none', edgecolor='#00ff00', linewidth=1.7)
sns.scatterplot(data=to_frame(SIG_SEVERE), x='MESH', y='VIL', ax=ax,
                marker=TRIANGLE, s=330, color='#ff0000', linewidth=0)

ax.set_xlim(-2.96, 111.5)
ax.set_ylim(7.02, 93.6)
ax.set_xticks(X_TICKS)
ax.set_yticks(Y_TICKS)
ax.tick_params(axis='both', length=21, width=1.5, color='#222222', labelcolor=TEXT_GREY,
               labelsize=29, bottom=True, left=True)
ax.tick_params(axis='x', pad=27)
ax.tick_params(axis='y', pad=14)
plt.setp(ax.get_yticklabels(), rotation=90, va='center')
for spine in ax.spines.values():
    spine.set_linewidth(1.6)
    spine.set_color('#222222')

ax.set_xlabel(X_LABEL, fontsize=30, color=TEXT_GREY, labelpad=44)
ax.set_ylabel(Y_LABEL, fontsize=30, color=TEXT_GREY, labelpad=43, y=0.505)
fig.text(fx(847), fy(147), TITLE, fontsize=36.5, fontweight='bold', ha='center', va='center', color='black')

# outer frame runs off the right edge of the slide
frame = dict(color='black', linewidth=1.5, transform=fig.transFigure)
fig.add_artist(Line2D([1, fx(60), fx(60), 1], [fy(37), fy(37), fy(1509), fy(1509)], **frame))

# legend row under the frame
fig.add_artist(Line2D([fx(125)], [fy(1586)], marker='o', markersize=26.5, color='black',
                      linewidth=0, transform=fig.transFigure))
fig.add_artist(Line2D([fx(669)], [fy(1588)], marker='o', markersize=23.5, markerfacecolor='none',
                      markeredgecolor='#00b050', markeredgewidth=3.6, linewidth=0, transform=fig.transFigure))
fig.add_artist(Line2D([fx(1101)], [fy(1588)], marker='^', markersize=27.5, color='#ff0000',
                      linewidth=0, transform=fig.transFigure))
for label, left in zip(LEGEND_LABELS, [159, 702, 1134]):
    fig.text(fx(left), fy(1603), label, fontsize=49, family=['Lato', 'DejaVu Sans'],
             ha='left', va='baseline', color='black')

fig.savefig('out.png', dpi=100, facecolor='white')
